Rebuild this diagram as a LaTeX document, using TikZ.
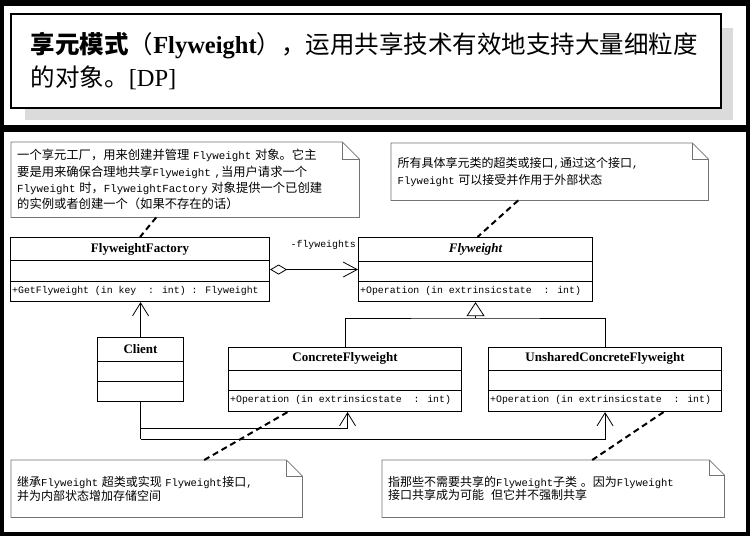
\documentclass[tikz,border=0pt]{standalone}
\usepackage{fontspec}
\setmainfont{Liberation Serif}
\newfontfamily\cjk{Noto Sans CJK SC}
\newfontfamily\mono{Liberation Mono}[Scale=0.88]
\usetikzlibrary{arrows.meta,calc}
\newcommand\zh[1]{{\cjk #1}}
\newcommand\notefold[2]{%
  \draw[noteline] (#1.south west) -- (#1.north west) -- ([xshift=-#2pt]#1.north east)
    -- ([yshift=-#2pt]#1.north east) -- (#1.south east) -- cycle;
  \draw[noteline] ([xshift=-#2pt]#1.north east) -- ([xshift=-#2pt,yshift=-#2pt]#1.north east)
    -- ([yshift=-#2pt]#1.north east);}
\newcommand\umldiv[2]{\draw[divider] ([yshift=-#2pt]#1.north west) -- ([yshift=-#2pt]#1.north east);}
\begin{document}
\begin{tikzpicture}[x=1pt,y=-1pt,
  umlbox/.style={draw=black, line width=1.1pt, inner sep=0pt, anchor=north west},
  divider/.style={draw=black, line width=0.9pt},
  classname/.style={font=\fontsize{13}{15}\selectfont\bfseries, inner sep=0pt},
  optext/.style={font=\mono\fontsize{11.2}{14}\selectfont, inner sep=0pt, anchor=west},
  conn/.style={draw=black, line width=0.8pt},
  barb/.style={conn, -{Straight Barb[length=13pt,width=16pt,line width=0.8pt]}},
  aggr/.style={conn, {Diamond[open,length=17pt,width=10pt,line width=0.8pt]}-{Straight Barb[length=14pt,width=15pt,line width=0.8pt]}},
  inherit/.style={conn, -{Triangle[open,length=14pt,width=18pt,line width=0.8pt]}},
  notelink/.style={draw=black, line width=2pt, dash pattern=on 6pt off 4pt},
  noteline/.style={draw=black!55, line width=0.8pt},
  notebox/.style={anchor=north west, inner xsep=6pt, inner ysep=3pt, align=left},
  titlebox/.style={anchor=north west, draw=black, fill=white, line width=1.5pt,
    inner xsep=20pt, inner ysep=4pt, align=left, text width=670pt}
]
\useasboundingbox (0,0) rectangle (750,536);
% frame
\fill[black] (0,0) rectangle (750,536);
\fill[white] (4,6) rectangle (746,125);
\fill[white] (4,132) rectangle (746,532);
% title with shadow
\fill[black!14] (25,28) rectangle (733,120);
\node[titlebox, minimum width=710, minimum height=94, font=\fontsize{24.5}{33}\selectfont] (title) at (10,13)
  {{\cjk\bfseries 享元模式}\zh{（}{\bfseries Flyweight}\zh{），运用共享技术有效地支持大量细粒度}\\
   \zh{的对象。}[DP]};

% classes
\node[umlbox, minimum width=259, minimum height=64] (ff) at (10,237) {};
\umldiv{ff}{23} \umldiv{ff}{44}
\node[classname] (ffname) at ([yshift=-12.5pt]ff.north) {FlyweightFactory};
\node[optext] (ffop) at ([xshift=2pt,yshift=-54pt]ff.north west) {+GetFlyweight (in key\ \ : int) : Flyweight};

\node[umlbox, minimum width=234, minimum height=64] (fw) at (358,237) {};
\umldiv{fw}{24} \umldiv{fw}{44}
\node[classname] (fwname) at ([yshift=-12.5pt]fw.north) {\itshape Flyweight};
\node[optext] (fwop) at ([xshift=2pt,yshift=-54pt]fw.north west) {+Operation (in extrinsicstate\ \ : int)};

\node[umlbox, minimum width=86, minimum height=64] (client) at (97,337) {};
\umldiv{client}{24} \umldiv{client}{44}
\node[classname] (clientname) at ([yshift=-12.5pt]client.north) {Client};

\node[umlbox, minimum width=233, minimum height=64] (cf) at (228,347) {};
\umldiv{cf}{23} \umldiv{cf}{43}
\node[classname] (cfname) at ([yshift=-11.5pt]cf.north) {ConcreteFlyweight};
\node[optext] (cfop) at ([xshift=2pt,yshift=-53pt]cf.north west) {+Operation (in extrinsicstate\ \ : int)};

\node[umlbox, minimum width=233, minimum height=64] (ucf) at (488,347) {};
\umldiv{ucf}{23} \umldiv{ucf}{43}
\node[classname] (ucfname) at ([yshift=-11.5pt]ucf.north) {UnsharedConcreteFlyweight};
\node[optext] (ucfop) at ([xshift=2pt,yshift=-53pt]ucf.north west) {+Operation (in extrinsicstate\ \ : int)};

% relations
\draw[aggr] (ff.east) -- (fw.west);
\node[optext, anchor=east] (lbl) at (356,245) {-flyweights};
\coordinate (bus) at (fw.south |- 0,318);
\draw[conn] (cf.north) |- (bus) -| (ucf.north);
\draw[inherit] (bus) -- (fw.south);
\draw[barb] (client.north) -- (client.north |- ff.south);
\draw[conn] (client.south) -- ++(0,37) coordinate (cl2);
\draw[barb] (client.south) ++(0,26) -| ([xshift=2.5pt]cf.south);
\draw[barb] (cl2) -| (ucf.south);

% notes
\node[notebox, minimum width=348, minimum height=75, text width=336,
  font=\mono\fontsize{12.3}{16.4}\selectfont] (note1) at (11,142)
  {\zh{一个享元工厂，用来创建并管理} Flyweight \zh{对象。它主}\\
   \zh{要是用来确保合理地共享}Flyweight ,\zh{当用户请求一个}\\
   Flyweight \zh{时，}FlyweightFactory \zh{对象提供一个已创建}\\
   \zh{的实例或者创建一个（如果不存在的话）}};
\notefold{note1}{17}

\node[notebox, minimum width=317, minimum height=57, text width=304, inner xsep=6.5pt,
  font=\mono\fontsize{12}{16.7}\selectfont] (note2) at (391,143)
  {\zh{所有具体享元类的超类或接口},\zh{通过这个接口},\\
   Flyweight \zh{可以接受并作用于外部状态}};
\notefold{note2}{16}

\node[notebox, minimum width=291, minimum height=57, text width=279,
  font=\mono\fontsize{12}{13.8}\selectfont] (note3) at (11,460)
  {\zh{继承}Flyweight \zh{超类或实现} Flyweight\zh{接口},\\
   \zh{并为内部状态增加存储空间}};
\notefold{note3}{16}

\node[notebox, minimum width=342, minimum height=57, text width=330,
  font=\mono\fontsize{12}{13.4}\selectfont] (note4) at (382,460)
  {\zh{指那些不需要共享的}Flyweight\zh{子类} \zh{。因为}Flyweight\\
   \zh{接口共享成为可能}\ \ \zh{但它并不强制共享}};
\notefold{note4}{15}

\draw[notelink] ([xshift=-29pt]note1.south) -- (ff.north);
\draw[notelink] ([xshift=-31.5pt]note2.south) -- ([xshift=2pt]fw.north);
\draw[notelink] ([xshift=47.5pt]note3.north) -- ([xshift=-57.5pt]cf.south);
\draw[notelink] ([xshift=39pt]note4.north) -- ([xshift=58.5pt]ucf.south);
\end{tikzpicture}
\end{document}
